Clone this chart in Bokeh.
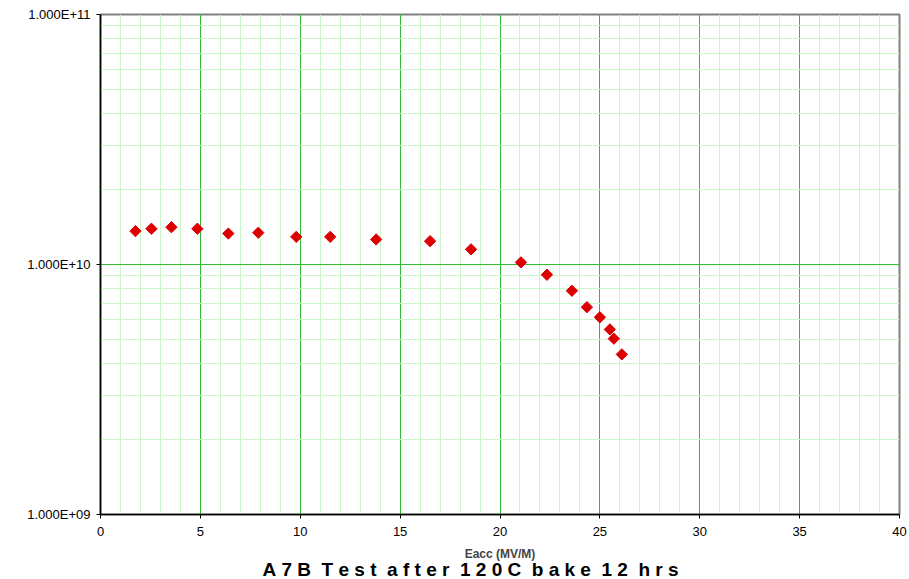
import numpy as np
from bokeh.plotting import figure
from bokeh.models import FixedTicker, CustomJSTickFormatter, Title, Range1d
from bokeh.embed import file_html
from bokeh.resources import INLINE

# Data
eacc = [1.75, 2.55, 3.55, 4.85, 6.4, 7.9, 9.8, 11.5, 13.8, 16.5, 18.55,
        21.05, 22.35, 23.6, 24.35, 25.0, 25.5, 25.7, 26.1]
q0 = [1.36e10, 1.39e10, 1.41e10, 1.39e10, 1.33e10, 1.34e10, 1.29e10, 1.29e10,
      1.26e10, 1.24e10, 1.15e10, 1.02e10, 9.1e9, 7.85e9, 6.75e9, 6.15e9,
      5.5e9, 5.05e9, 4.37e9]
x_ticks = [0, 5, 10, 15, 20, 25, 30, 35, 40]
x_minor = list(range(0, 41))
y_ticks = [1e9, 1e10, 1e11]
y_minor = [m * 10.0 ** e for e in (9, 10) for m in range(2, 10)]
title_words = ["A7B", "Test", "after", "120C", "bake", "12", "hrs"]

FONT = "Liberation Sans"
NB = "\u00a0"

p = figure(width=909, height=579, y_axis_type="log",
           x_range=Range1d(0, 40), y_range=Range1d(1e9, 1e11),
           output_backend="svg", toolbar_location=None,
           min_border_left=100, min_border_right=10,
           min_border_top=14, min_border_bottom=65)
p.background_fill_color = "white"
p.border_fill_color = "white"
p.outline_line_color = "#808080"
p.outline_line_width = 2

p.xaxis.ticker = FixedTicker(ticks=x_ticks, minor_ticks=x_minor)
p.yaxis.ticker = FixedTicker(ticks=y_ticks, minor_ticks=y_minor)
p.yaxis.formatter = CustomJSTickFormatter(code="""
    var e = Math.round(Math.log10(tick));
    return '1.000E+' + (e < 10 ? '0' : '') + e;
""")

for ax in (p.xaxis, p.yaxis):
    ax.axis_line_color = "black"
    ax.axis_line_width = 1.5
    ax.major_tick_line_color = "black"
    ax.major_tick_out = 4
    ax.major_tick_in = 0
    ax.minor_tick_line_color = None
    ax.major_label_text_font = FONT
    ax.major_label_text_font_size = "13px"
    ax.major_label_text_color = "black"

p.xaxis.major_label_standoff = 8
p.yaxis.major_label_standoff = 6
p.xaxis.axis_label = "Eacc (MV/M)"
p.xaxis.axis_label_text_font = FONT
p.xaxis.axis_label_text_font_size = "12px"
p.xaxis.axis_label_text_font_style = "bold"
p.xaxis.axis_label_standoff = 8

for g in (p.xgrid, p.ygrid):
    g.grid_line_color = "#33bb33"
    g.grid_line_width = 1
    g.minor_grid_line_color = "#c8f8c8"
    g.minor_grid_line_width = 1

p.scatter(eacc, q0, marker="square", angle=np.pi / 4, size=8,
          fill_color="#dd0000", line_color="#dd0000")

title_text = (NB * 2).join(NB.join(w) for w in title_words)
title = Title(text=title_text,
              align="left", offset=162, text_font=FONT, text_font_size="19px",
              text_font_style="bold", text_color="black", standoff=-14)
p.add_layout(title, "below")

open("out.html", "w").write(file_html(p, INLINE))
